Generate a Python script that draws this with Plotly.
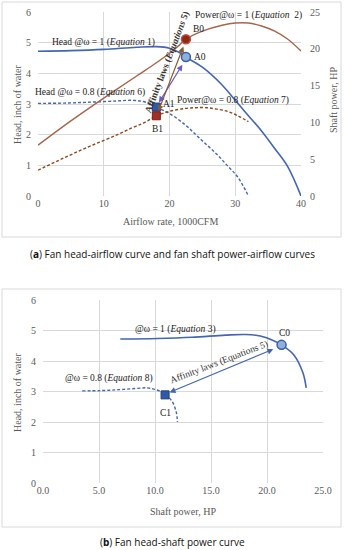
import plotly.graph_objects as go

W, H = 344, 550
def px(x): return x / W
def py(y): return 1 - y / H

# ---- data (top chart: airflow in 1000 CFM) ----
flow_w1 = [0, 5, 10, 15, 18, 20, 21.5, 22.5, 25, 28, 30, 32, 34, 36, 38, 40]
head_w1 = [4.72, 4.74, 4.78, 4.85, 4.87, 4.82, 4.68, 4.53, 4.2, 3.62, 3.12, 2.62, 2.12, 1.55, 0.95, 0.0]
power_w1 = [6.9, 10.2, 13.3, 16.3, 18.1, 19.4, 20.5, 21.3, 22.4, 23.2, 23.5, 23.5, 23.1, 22.4, 21.3, 19.7]

flow_w08 = [0, 4, 8, 12, 14.4, 16, 17.2, 18, 20, 22.4, 24, 25.6, 27.2, 28.8, 30.4, 32]
head_w08 = [3.02, 3.03, 3.06, 3.1, 3.12, 3.08, 3.0, 2.9, 2.69, 2.32, 2.0, 1.68, 1.36, 0.99, 0.61, 0.0]
power_w08 = [3.5, 5.2, 6.8, 8.3, 9.3, 9.9, 10.5, 10.9, 11.5, 11.9, 12.0, 12.0, 11.8, 11.5, 10.9, 10.1]

# bottom chart: head vs shaft power
hp_w1 = [6.9, 10.2, 13.3, 16.3, 18.1, 19.4, 20.5, 21.3, 22.4, 23.2, 23.5]
hd_w1 = [4.72, 4.74, 4.78, 4.85, 4.87, 4.82, 4.68, 4.53, 4.2, 3.62, 3.12]
hp_w08 = [3.5, 5.2, 6.8, 8.3, 9.3, 9.9, 10.5, 10.9, 11.5, 11.9, 12.0]
hd_w08 = [3.02, 3.03, 3.06, 3.1, 3.12, 3.08, 3.0, 2.9, 2.69, 2.32, 2.0]

# operating points
A0 = (22.5, 4.53); B0 = (22.5, 21.3)
A1 = (18.0, 2.9);  B1 = (18.0, 10.9)
C0 = (21.3, 4.53); C1 = (10.9, 2.89)

x_ticks_top = [0, 10, 20, 30, 40]
y_ticks = [0, 1, 2, 3, 4, 5, 6]
y2_ticks = [0, 5, 10, 15, 20, 25]
x_ticks_bot = [0, 5, 10, 15, 20, 25]
x_ticklabels_bot = ["0.0", "5.0", "10.0", "15.0", "20.0", "25.0"]

BLUE = "#4267b2"
BROWN = "#a5654a"
DBROWN = "#8c4a1c"
GRID = "#d9d9d9"
TICKC = "#595959"
SERIF = "Liberation Serif"
DASH = "3px,2px"

fig = go.Figure()
# top chart
fig.add_trace(go.Scatter(x=flow_w1, y=head_w1, mode="lines", line=dict(color=BLUE, width=1.6, shape="spline"), xaxis="x", yaxis="y"))
fig.add_trace(go.Scatter(x=flow_w08, y=head_w08, mode="lines", line=dict(color=BLUE, width=1.4, dash=DASH, shape="spline"), xaxis="x", yaxis="y"))
fig.add_trace(go.Scatter(x=flow_w1, y=power_w1, mode="lines", line=dict(color=BROWN, width=1.4, shape="spline"), xaxis="x", yaxis="y2"))
fig.add_trace(go.Scatter(x=flow_w08, y=power_w08, mode="lines", line=dict(color=DBROWN, width=1.4, dash=DASH, shape="spline"), xaxis="x", yaxis="y2"))
fig.add_trace(go.Scatter(x=[A0[0]], y=[A0[1]], mode="markers", marker=dict(symbol="circle", size=9, color="#8fb0dc", line=dict(color="#3a5ea6", width=1.5)), xaxis="x", yaxis="y"))
fig.add_trace(go.Scatter(x=[A1[0]], y=[A1[1]], mode="markers", marker=dict(symbol="square", size=8, color="#2f5aa6", line=dict(color="#1f3d7a", width=1)), xaxis="x", yaxis="y"))
fig.add_trace(go.Scatter(x=[B0[0]], y=[B0[1]], mode="markers", marker=dict(symbol="circle", size=9, color="#8b2c10", line=dict(color="#c0504d", width=1.5)), xaxis="x", yaxis="y2"))
fig.add_trace(go.Scatter(x=[B1[0]], y=[B1[1]], mode="markers", marker=dict(symbol="square", size=8, color="#a52f26", line=dict(color="#7a1f18", width=1)), xaxis="x", yaxis="y2"))
# bottom chart
fig.add_trace(go.Scatter(x=hp_w1, y=hd_w1, mode="lines", line=dict(color=BLUE, width=1.6, shape="spline"), xaxis="x2", yaxis="y3"))
fig.add_trace(go.Scatter(x=hp_w08, y=hd_w08, mode="lines", line=dict(color=BLUE, width=1.4, dash=DASH, shape="spline"), xaxis="x2", yaxis="y3"))
fig.add_trace(go.Scatter(x=[C0[0]], y=[C0[1]], mode="markers", marker=dict(symbol="circle", size=9, color="#8fb0dc", line=dict(color="#3a5ea6", width=1.5)), xaxis="x2", yaxis="y3"))
fig.add_trace(go.Scatter(x=[C1[0]], y=[C1[1]], mode="markers", marker=dict(symbol="square", size=8, color="#2f5aa6", line=dict(color="#1f3d7a", width=1)), xaxis="x2", yaxis="y3"))

tickfont = dict(family=SERIF, size=10, color=TICKC)
ax_common = dict(showgrid=True, gridcolor=GRID, gridwidth=1, zeroline=False, showline=False, ticks="", tickfont=tickfont)

fig.update_layout(
    width=W, height=H, margin=dict(l=0, r=0, t=0, b=0, autoexpand=False),
    paper_bgcolor="white", plot_bgcolor="white", showlegend=False,
    xaxis=dict(domain=[px(38), px(301)], range=[0, 40], tickvals=x_ticks_top, anchor="y", **ax_common),
    yaxis=dict(domain=[py(196), py(12)], range=[0, 6], tickvals=y_ticks, anchor="x", ticklabelstandoff=6, **ax_common),
    yaxis2=dict(overlaying="y", side="right", range=[0, 25], tickvals=y2_ticks, anchor="x",
                showgrid=False, zeroline=False, showline=False, ticks="", tickfont=tickfont, ticklabelstandoff=8),
    xaxis2=dict(domain=[px(43), px(323)], range=[0, 25], tickvals=x_ticks_bot, ticktext=x_ticklabels_bot, anchor="y3", **ax_common),
    yaxis3=dict(domain=[py(483), py(300)], range=[0, 6], tickvals=y_ticks, anchor="x2", ticklabelstandoff=6, **ax_common),
)

shapes = [
    dict(type="rect", xref="paper", yref="paper", x0=px(2), x1=px(341), y0=py(237), y1=py(2), line=dict(color=GRID, width=1)),
    dict(type="rect", xref="paper", yref="paper", x0=px(2), x1=px(341), y0=py(527), y1=py(289), line=dict(color=GRID, width=1)),
]
fig.update_layout(shapes=shapes)

tf = dict(family=SERIF, size=9.5, color="#222222")
axf = dict(family=SERIF, size=10, color=TICKC)
ann = []
def T(x, y, text, font=tf, angle=0, xanchor="center"):
    ann.append(dict(xref="paper", yref="paper", x=px(x), y=py(y), text=text, showarrow=False,
                    font=font, textangle=angle, xanchor=xanchor, yanchor="middle"))

# axis titles
T(170, 221, "Airflow rate, 1000CFM", axf)
T(17, 104, "Head, inch of water", axf, angle=-90)
T(333, 100, "Shaft power, HP", axf, angle=-90)
T(183, 511, "Shaft power, HP", axf)
T(17, 392, "Head, inch of water", axf, angle=-90)

# top chart labels
T(50, 42, "Head @ω = 1 (<i>Equation</i> 1)", xanchor="left")
T(33, 93, "Head @ω = 0.8 (<i>Equation</i> 6)", xanchor="left")
T(193, 16, "Power@ω = 1 (<i>Equation</i>  2)", xanchor="left")
T(175, 100, "Power@ω = 0.8 (<i>Equation</i> 7)", xanchor="left")
T(167, 62, "<b>Affinity laws (<i>Equations</i> 5)</b>", dict(family=SERIF, size=9.5, color="#333333"), angle=-69)
T(192, 57, "A0", xanchor="left")
T(191, 29, "B0", xanchor="left")
T(161, 104, "A1", xanchor="left")
T(157, 129, "B1")
# bottom chart labels
T(133, 329, "@ω = 1 (<i>Equation</i> 3)", xanchor="left")
T(63, 378, "@ω = 0.8 (<i>Equation</i> 8)", xanchor="left")
T(219, 362, "Affinity laws (Equations 5)", dict(family=SERIF, size=9.5, color="#333333"), angle=-21)
T(284, 333, "C0")
T(165, 413, "C1")

# captions
capf = dict(family="Open Sans", size=10, color="#111111")
T(172, 254, "(<b>a</b>) Fan head-airflow curve and fan shaft power-airflow curves", capf)
T(172, 542, "(<b>b</b>) Fan head-shaft power curve", capf)

# affinity arrows
ann.append(dict(xref="x", yref="y", axref="x", ayref="y", x=A1[0] + 0.4, y=A1[1] + 0.15, ax=A0[0] - 0.4, ay=A0[1] - 0.2,
                text="", showarrow=True, arrowhead=2, startarrowhead=2, arrowside="end+start", arrowsize=1, arrowwidth=1.2, arrowcolor="#6a5acd"))
ann.append(dict(xref="x", yref="y2", axref="x", ayref="y2", x=B1[0] + 0.3, y=B1[1] + 0.6, ax=B0[0] - 0.3, ay=B0[1] - 0.8,
                text="", showarrow=True, arrowhead=2, startarrowhead=2, arrowside="end+start", arrowsize=1, arrowwidth=1.2, arrowcolor="#8b5a2b"))
ann.append(dict(xref="x2", yref="y3", axref="x2", ayref="y3", x=C1[0] + 0.4, y=C1[1] + 0.08, ax=C0[0] - 0.6, ay=C0[1] - 0.12,
                text="", showarrow=True, arrowhead=2, startarrowhead=2, arrowside="end+start", arrowsize=1, arrowwidth=1.2, arrowcolor=BLUE))
fig.update_layout(annotations=ann)

fig.write_html("out.html", config={"displayModeBar": False},
               post_script="document.body.style.margin='0';document.body.style.padding='0';")
